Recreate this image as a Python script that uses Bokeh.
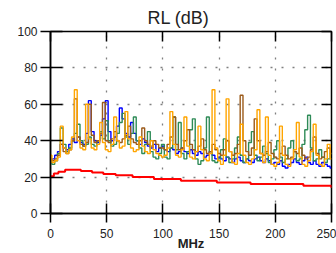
from bokeh.plotting import figure
from bokeh.models import Range1d, LinearAxis, FixedTicker, CustomLabelingPolicy
from bokeh.embed import file_html
from bokeh.resources import INLINE

FONT = "Liberation Sans"

freq = [0, 2.5, 5, 7.5, 10, 12.5, 15, 17.5, 20, 22.5,
        25, 27.5, 30, 32.5, 35, 37.5, 40, 42.5, 45, 47.5,
        50, 52.5, 55, 57.5, 60, 62.5, 65, 67.5, 70, 72.5,
        75, 77.5, 80, 82.5, 85, 87.5, 90, 92.5, 95, 97.5,
        100, 102.5, 105, 107.5, 110, 112.5, 115, 117.5, 120, 122.5,
        125, 127.5, 130, 132.5, 135, 137.5, 140, 142.5, 145, 147.5,
        150, 152.5, 155, 157.5, 160, 162.5, 165, 167.5, 170, 172.5,
        175, 177.5, 180, 182.5, 185, 187.5, 190, 192.5, 195, 197.5,
        200, 202.5, 205, 207.5, 210, 212.5, 215, 217.5, 220, 222.5,
        225, 227.5, 230, 232.5, 235, 237.5, 240, 242.5, 245, 247.5,
        250]

rl_blue = [29, 30, 32, 34, 38, 36, 35, 38, 41, 39,
           42, 39, 38, 44, 62, 45, 40, 39, 43, 52,
           62, 45, 40, 42, 48, 58, 52, 44, 42, 50,
           44, 40, 38, 41, 39, 37, 36, 38, 34, 36,
           37, 35, 34, 36, 35, 33, 34, 36, 34, 33,
           35, 33, 32, 34, 33, 31, 32, 34, 32, 30,
           31, 30, 29, 31, 30, 28, 30, 31, 29, 28,
           30, 29, 28, 30, 31, 29, 28, 30, 29, 27,
           28, 27, 29, 26, 25, 27, 28, 30, 28, 27,
           29, 31, 28, 27, 29, 27, 26, 28, 27, 26,
           25]

rl_green = [28, 27, 29, 33, 47, 38, 34, 36, 40, 44,
            49, 40, 37, 38, 42, 38, 37, 40, 45, 41,
            51, 40, 37, 38, 44, 50, 55, 42, 38, 44,
            53, 40, 36, 33, 38, 45, 34, 31, 30, 33,
            38, 31, 30, 36, 53, 35, 50, 33, 30, 34,
            46, 52, 30, 27, 29, 36, 53, 34, 29, 28,
            30, 35, 41, 31, 28, 30, 36, 42, 32, 28,
            30, 39, 45, 32, 29, 31, 37, 33, 28, 30,
            35, 40, 31, 28, 30, 36, 40, 34, 29, 30,
            38, 46, 54, 36, 29, 30, 35, 31, 28, 30,
            33]

rl_brown = [30, 29, 30, 32, 38, 34, 33, 35, 40, 63,
            42, 38, 37, 39, 60, 43, 39, 40, 44, 61,
            40, 39, 41, 45, 40, 39, 41, 43, 48, 41,
            39, 38, 40, 47, 40, 38, 37, 40, 38, 36,
            36, 35, 38, 42, 53, 38, 35, 36, 40, 46,
            38, 35, 34, 37, 41, 35, 33, 34, 38, 35,
            33, 32, 35, 40, 34, 32, 33, 38, 65, 40,
            34, 32, 36, 52, 40, 33, 32, 34, 39, 33,
            31, 30, 33, 37, 32, 30, 31, 34, 33, 36,
            32, 30, 31, 35, 42, 33, 30, 31, 34, 36,
            33]

rl_orange = [32, 28, 29, 31, 48, 36, 33, 35, 42, 68,
             40, 36, 35, 60, 41, 36, 35, 38, 50, 39,
             35, 34, 38, 53, 40, 36, 37, 56, 41, 36,
             34, 35, 42, 37, 34, 33, 40, 35, 33, 32,
             31, 32, 36, 56, 38, 32, 31, 35, 53, 37,
             31, 30, 34, 48, 35, 30, 29, 33, 68, 36,
             29, 27, 32, 63, 34, 28, 27, 33, 49, 32,
             28, 27, 30, 35, 57, 33, 28, 53, 32, 27,
             26, 28, 48, 32, 27, 26, 30, 35, 50, 31,
             27, 26, 29, 34, 49, 32, 27, 26, 30, 38,
             30]

limit_freq = [0, 3, 7, 13, 27, 37, 47, 58, 73, 92, 116, 148, 178, 225, 250]
limit_rl = [20.5, 22, 23, 24, 23.3, 22.5, 21.7, 21, 20, 19, 18, 17, 16.2, 15.3, 14]

x_ticks = [0, 50, 100, 150, 200, 250]
y_ticks = [0, 20, 40, 60, 80, 100]

p = figure(width=336, height=253, output_backend="svg", toolbar_location=None,
           x_range=Range1d(0, 250), y_range=Range1d(0, 100),
           min_border_left=50, min_border_right=5, min_border_top=31,
           min_border_bottom=39, title="RL (dB)")
p.outline_line_color = "black"
p.outline_line_width = 1.5
p.background_fill_color = "white"
p.border_fill_color = "white"

p.title.text_font = FONT
p.title.text_font_size = "18px"
p.title.text_font_style = "normal"
p.title.text_color = "#222222"
p.title.align = "left"
p.title.offset = 97
p.title.standoff = 0

for ax in p.xaxis + p.yaxis:
    ax.major_label_text_font = FONT
    ax.major_label_text_font_size = "12px"
    ax.major_label_text_color = "#222222"
    ax.minor_tick_line_color = None
    ax.major_tick_line_color = "black"
    ax.major_tick_line_width = 1.5
    ax.axis_line_width = 1.5
    ax.axis_line_color = "black"

p.xaxis.ticker = FixedTicker(ticks=x_ticks)
p.yaxis.ticker = FixedTicker(ticks=y_ticks)
p.xaxis.major_tick_in = 10
p.xaxis.major_tick_out = 9
p.xaxis.major_label_standoff = 6
p.xaxis.axis_label = "MHz"
p.xaxis.axis_label_text_font = FONT
p.xaxis.axis_label_text_font_size = "13px"
p.xaxis.axis_label_text_font_style = "bold"
p.xaxis.axis_label_text_color = "#222222"
p.xaxis.axis_label_standoff = -5

p.yaxis.major_tick_in = 12
p.yaxis.major_tick_out = 10
p.yaxis.major_label_standoff = 3

top_ax = LinearAxis(ticker=FixedTicker(ticks=x_ticks), major_tick_in=10, major_tick_out=0,
                    major_label_text_font_size="1px", major_label_standoff=0,
                    major_label_policy=CustomLabelingPolicy(code="return new Set()"),
                    axis_line_color=None,
                    minor_tick_line_color=None, major_tick_line_width=1.5)
p.add_layout(top_ax, "above")
right_ax = LinearAxis(ticker=FixedTicker(ticks=y_ticks), major_tick_in=10, major_tick_out=0,
                      major_label_text_font_size="1px", major_label_standoff=0,
                      major_label_policy=CustomLabelingPolicy(code="return new Set()"),
                      axis_line_color=None,
                      minor_tick_line_color=None, major_tick_line_width=1.5)
p.add_layout(right_ax, "right")

p.xgrid.ticker = FixedTicker(ticks=[50, 100, 150, 200])
p.ygrid.ticker = FixedTicker(ticks=[20, 40, 60, 80])
for g in (p.xgrid, p.ygrid):
    g.grid_line_color = "#808080"
    g.grid_line_dash = "2 9"
    g.grid_line_width = 1.3

p.step(freq, rl_blue, mode="center", line_color="#0000FF", line_width=1.4)
p.step(freq, rl_green, mode="center", line_color="#2E8B57", line_width=1.4)
p.step(freq, rl_brown, mode="center", line_color="#9B5A1A", line_width=1.4)
p.step(freq, rl_orange, mode="center", line_color="#FFA500", line_width=1.4)
p.step(limit_freq, limit_rl, mode="after", line_color="#FF0000", line_width=2)

open("out.html", "w").write(file_html(p, INLINE))
